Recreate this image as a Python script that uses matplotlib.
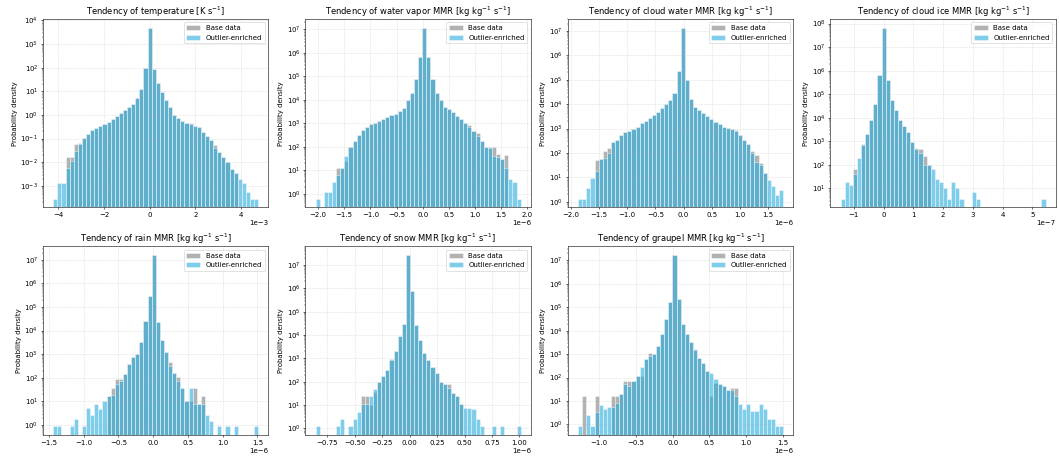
import numpy as np
import matplotlib
import matplotlib.pyplot as plt
from matplotlib.ticker import LogLocator, NullFormatter

matplotlib.use('Agg')

OUTPUT_PATH = "out.png"
N_BINS = 50

BASE_COLOR = "gray"
ENRICHED_COLOR = "#26acde"

# Shared bin range per variable (lo, hi) and density per bin (50 bins)
temp_range = (-4.23e-3, 4.75e-3)
temp_base = [0, 0, 0, 0.017, 0.017, 0.057, 0.066, 0.11, 0.16, 0.22,
             0.28, 0.34, 0.40, 0.50, 0.68, 0.93, 1.26, 1.66, 2.2, 3.0,
             5.0, 13, 100, 5000, 90, 23, 9.3, 4.2, 2.2, 0.98,
             0.71, 0.54, 0.46, 0.45, 0.35, 0.31, 0.19, 0.126, 0.085, 0.054,
             0.028, 0.017, 0.0098, 0.0054, 0.0035, 0, 0, 0, 0, 0]
temp_enriched = [2.8e-4, 1.35e-3, 1.35e-3, 5.5e-3, 0.011, 0.03, 0.06, 0.11, 0.16, 0.22,
                 0.28, 0.34, 0.40, 0.50, 0.68, 0.93, 1.26, 1.66, 2.2, 3.0,
                 5.0, 13, 100, 5000, 90, 23, 9.3, 4.2, 2.2, 0.98,
                 0.71, 0.54, 0.46, 0.41, 0.35, 0.31, 0.19, 0.126, 0.085, 0.038,
                 0.028, 0.017, 0.0098, 0.0054, 0.0035, 0.0019, 0.00135, 5.6e-4, 2.8e-4, 2.8e-4]

qv_range = (-2.045e-6, 1.873e-6)
qv_base = [0, 0, 0, 0, 0, 12, 12, 25, 100, 170,
           330, 500, 700, 900, 1050, 1250, 1500, 1800, 2200, 2600,
           3300, 4500, 1.0e4, 2.0e4, 7.8e4, 6.5e5, 1.2e7, 6.5e5, 7.8e4, 2.0e4,
           1.0e4, 5.1e3, 4.0e3, 2.9e3, 2.1e3, 1.5e3, 1.0e3, 870, 490, 380,
           170, 100, 100, 100, 49, 30, 45, 0, 0, 0]
qv_enriched = [0.6, 0, 1.2, 1.2, 3.0, 6.0, 12, 39, 100, 170,
               330, 500, 700, 900, 1050, 1250, 1500, 1800, 2200, 2600,
               3300, 4500, 1.0e4, 2.0e4, 7.8e4, 6.5e5, 1.2e7, 6.5e5, 7.8e4, 2.0e4,
               1.0e4, 5.1e3, 4.0e3, 2.9e3, 2.1e3, 1.5e3, 1.0e3, 690, 490, 300,
               170, 100, 87, 40, 35, 30, 12, 4.4, 3.0, 0.6]

qc_range = (-1.87e-6, 1.765e-6)
qc_base = [0, 0, 0, 0, 52, 56, 115, 165, 280, 350,
           550, 690, 830, 950, 1200, 1650, 2100, 2700, 3600, 5000,
           6800, 1.0e4, 1.5e4, 3.0e4, 2.2e5, 1.4e7, 1.0e5, 1.6e4, 7.6e3, 5.9e3,
           4.3e3, 3.3e3, 2.4e3, 1.9e3, 1.5e3, 1.2e3, 1.07e3, 980, 850, 550,
           350, 230, 115, 80, 38, 15, 0, 0, 0, 0]
qc_enriched = [1.3, 1.3, 3.6, 9.3, 19, 56, 61, 100, 280, 350,
               550, 690, 830, 950, 1200, 1650, 2100, 2700, 3600, 5000,
               6800, 1.0e4, 1.5e4, 3.0e4, 2.2e5, 1.4e7, 1.0e5, 1.6e4, 7.6e3, 5.9e3,
               4.3e3, 3.3e3, 2.4e3, 1.9e3, 1.5e3, 1.2e3, 1.07e3, 980, 760, 550,
               350, 230, 100, 43, 33, 15, 7.9, 4.3, 1.95, 3.1]

qi_range = (-1.44e-7, 5.44e-7)
qi_base = [0, 0, 0, 70, 0, 780, 2.0e3, 8.3e3, 3.9e4, 6.3e5,
           6.8e7, 4.1e5, 5.8e4, 2.2e4, 8.3e3, 4.3e3, 2.6e3, 910, 530, 480,
           230, 100, 0, 0, 0, 0, 0, 0, 0, 0,
           0, 0, 0, 0, 0, 0, 0, 0, 0, 0,
           0, 0, 0, 0, 0, 0, 0, 0, 0, 0]
qi_enriched = [3.6, 18, 14, 43, 200, 680, 2.0e3, 8.3e3, 3.9e4, 6.3e5,
               6.8e7, 4.1e5, 5.8e4, 2.2e4, 8.3e3, 4.3e3, 2.6e3, 910, 480, 330,
               100, 100, 68, 24, 18, 10.7, 3.6, 18, 10, 3.6,
               0, 0, 7.2, 3.6, 0, 0, 0, 0, 0, 0,
               0, 0, 0, 0, 0, 0, 0, 0, 0, 3.6]

qr_range = (-1.435e-6, 1.512e-6)
qr_base = [0, 0, 0, 0, 0, 0, 0, 0, 0, 0,
           0, 0, 0, 16, 35, 87, 87, 140, 370, 760,
           1000, 3200, 2.5e4, 3.0e5, 1.6e7, 2.2e4, 4.0e3, 1.2e3, 470, 160,
           107, 38, 10.5, 10, 35, 7.5, 17, 0, 0, 0,
           0, 0, 0, 0, 0, 0, 0, 0, 0, 0]
qr_enriched = [0.85, 0.85, 0, 0, 0.85, 1.7, 0, 0.85, 5.4, 2.6,
               7.6, 4.6, 10.4, 16, 19, 52, 74, 140, 370, 760,
               1000, 3200, 2.5e4, 3.0e5, 1.6e7, 2.2e4, 4.0e3, 1.2e3, 320, 160,
               74, 38, 10.5, 35, 7.5, 7.5, 7.5, 2.6, 1.5, 0,
               0.85, 0, 0.85, 0, 0.85, 0, 0, 0, 0, 0.85]

qs_range = (-0.857e-6, 1.012e-6)
qs_base = [0, 0, 0, 0, 0, 0, 0, 0, 0, 0,
           0, 25, 25, 10, 35, 100, 175, 320, 900, 2.0e3,
           8.9e3, 3.1e4, 2.7e7, 8.1e5, 2.8e4, 6.3e3, 1.7e3, 890, 430, 230,
           100, 78, 78, 34, 25, 10.7, 0, 0, 0, 0,
           0, 0, 0, 0, 0, 0, 0, 0, 0, 0]
qs_enriched = [1.2, 0, 0, 0, 0, 1.2, 2.5, 0, 1.2, 2.5,
               4.8, 10.7, 10.7, 25, 50, 100, 175, 320, 830, 2.0e3,
               8.9e3, 3.1e4, 2.7e7, 8.1e5, 2.8e4, 6.3e3, 1.7e3, 890, 430, 230,
               100, 78, 55, 34, 25, 10.7, 7.7, 7.7, 6.6, 2.5,
               1.2, 0, 0, 1.2, 0, 1.2, 0, 0, 0, 1.2]

qg_range = (-1.286e-6, 1.503e-6)
qg_base = [0, 17, 0, 0, 17, 0, 0, 0, 17, 17,
           19, 72, 72, 72, 117, 117, 600, 1170, 1000, 2200,
           7600, 3.1e4, 1.7e5, 1.7e7, 2.2e5, 2.0e4, 7.4e3, 3.2e3, 1.6e3, 700,
           440, 190, 17, 60, 55, 44, 30, 35, 35, 0,
           0, 0, 0, 0, 0, 0, 0, 0, 0, 0]
qg_enriched = [0.82, 0, 2.5, 0.82, 3.3, 6.8, 4.5, 5.6, 5.6, 8.5,
               19, 52, 44, 72, 117, 270, 600, 830, 1000, 2200,
               7600, 3.1e4, 1.7e5, 1.7e7, 2.2e5, 2.0e4, 7.4e3, 3.2e3, 1.5e3, 700,
               440, 190, 160, 85, 55, 44, 30, 30, 17, 7.4,
               4.5, 7.4, 3.8, 3.8, 7.4, 4.5, 1.7, 1.7, 0.82, 0.82]

UNIT_MMR = r"[kg kg$^{-1}$ s$^{-1}$]"
PANELS = [
    (r"Tendency of temperature [K s$^{-1}$]", temp_range, temp_base, temp_enriched),
    ("Tendency of water vapor MMR " + UNIT_MMR, qv_range, qv_base, qv_enriched),
    ("Tendency of cloud water MMR " + UNIT_MMR, qc_range, qc_base, qc_enriched),
    ("Tendency of cloud ice MMR " + UNIT_MMR, qi_range, qi_base, qi_enriched),
    ("Tendency of rain MMR " + UNIT_MMR, qr_range, qr_base, qr_enriched),
    ("Tendency of snow MMR " + UNIT_MMR, qs_range, qs_base, qs_enriched),
    ("Tendency of graupel MMR " + UNIT_MMR, qg_range, qg_base, qg_enriched),
]


def draw_panel(ax, title, rng, base, enriched):
    edges = np.linspace(rng[0], rng[1], N_BINS + 1)
    left = edges[:-1]
    ax.hist(left, bins=edges, weights=base, color=BASE_COLOR, alpha=0.6,
            edgecolor='white', linewidth=1.0, label='Base data', log=True)
    ax.hist(left, bins=edges, weights=enriched, color=ENRICHED_COLOR, alpha=0.6,
            edgecolor='white', linewidth=1.0, label='Outlier-enriched', log=True)

    ax.set_title(title, fontsize=12)
    ax.set_ylabel("Probability density")

    # one labelled tick per decade inside the visible range
    lo, hi = ax.get_ylim()
    decades = np.arange(np.ceil(np.log10(lo)), np.floor(np.log10(hi)) + 1)
    ax.set_yticks(10.0 ** decades)
    ax.yaxis.set_minor_locator(LogLocator(base=10, subs=np.arange(2, 10), numticks=20))
    ax.yaxis.set_minor_formatter(NullFormatter())
    ax.set_ylim(lo, hi)

    ax.ticklabel_format(axis='x', style='sci', scilimits=(0, 0))
    ax.grid(True, linestyle='--', alpha=0.4)
    ax.legend(loc='upper right')


fig, axes = plt.subplots(2, 4, figsize=(21.18, 9.24))
fig.subplots_adjust(left=0.0406, right=0.997, bottom=0.0584, top=0.959,
                    wspace=0.164, hspace=0.207)

for ax, (title, rng, base, enriched) in zip(axes.flat, PANELS):
    draw_panel(ax, title, rng, base, enriched)

axes[1, 3].remove()

fig.savefig(OUTPUT_PATH, dpi=50)
plt.close(fig)
